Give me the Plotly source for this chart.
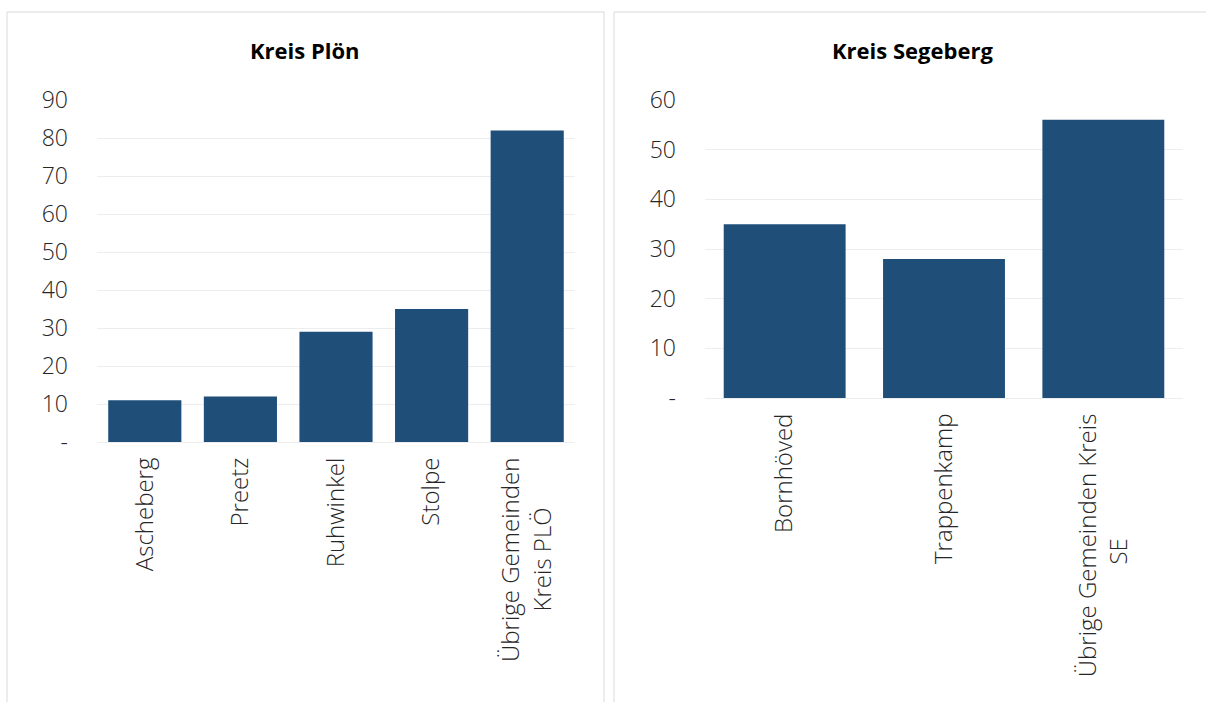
import plotly.graph_objects as go

W, H = 1206, 702
NB = "\u00a0"

ploen_cats = ["Ascheberg", "Preetz", "Ruhwinkel", "Stolpe", "Übrige Gemeinden<br>Kreis PLÖ" + NB * 8]
ploen_vals = [11, 12, 29, 35, 82]
ploen_ticks = [0, 10, 20, 30, 40, 50, 60, 70, 80, 90]
ploen_ticktext = ["-", "10", "20", "30", "40", "50", "60", "70", "80", "90"]

seg_cats = ["Bornhöved", "Trappenkamp", "Übrige Gemeinden Kreis<br>SE" + NB * 20]
seg_vals = [35, 28, 56]
seg_ticks = [0, 10, 20, 30, 40, 50, 60]
seg_ticktext = ["-", "10", "20", "30", "40", "50", "60"]

BAR = "#1F4E79"
FONT = "Open Sans"

fig = go.Figure()
fig.add_trace(go.Bar(x=ploen_cats, y=ploen_vals, marker_color=BAR, xaxis="x", yaxis="y"))
fig.add_trace(go.Bar(x=seg_cats, y=seg_vals, marker_color=BAR, xaxis="x2", yaxis="y2"))

def px(x):
    return x / W

def py(y):
    return 1 - y / H

ytickfont = dict(family=FONT, size=23, color="#262626", weight=300)
xtickfont = dict(family=FONT, size=24, color="#262626", weight=300)
common_y = dict(showgrid=True, gridcolor="#EDEDED", gridwidth=1, zeroline=False, automargin=False,
                tickfont=ytickfont, ticks="", showline=False, ticklabelstandoff=28)
common_x = dict(tickangle=-90, tickfont=xtickfont, ticks="", showline=True, automargin=False,
                linecolor="#EDEDED", linewidth=1, ticklabelstandoff=5)

fig.update_layout(
    template="none",
    width=W, height=H,
    margin=dict(l=0, r=0, t=0, b=0, pad=0),
    paper_bgcolor="white", plot_bgcolor="white",
    showlegend=False, bargap=0.235,
    xaxis=dict(domain=[px(97), px(575)], anchor="y", **common_x),
    yaxis=dict(domain=[py(442), py(100)], anchor="x", range=[0, 90],
               tickvals=ploen_ticks, ticktext=ploen_ticktext, **common_y),
    xaxis2=dict(domain=[px(705), px(1183)], anchor="y2", **common_x),
    yaxis2=dict(domain=[py(398), py(100)], anchor="x2", range=[0, 60],
                tickvals=seg_ticks, ticktext=seg_ticktext, **common_y),
    shapes=[
        dict(type="rect", xref="paper", yref="paper", x0=px(7), x1=px(604), y0=py(712), y1=py(12),
             line=dict(color="#D9D9D9", width=1), layer="below"),
        dict(type="rect", xref="paper", yref="paper", x0=px(614), x1=px(1216), y0=py(712), y1=py(12),
             line=dict(color="#D9D9D9", width=1), layer="below"),
    ],
    annotations=[
        dict(text="<b>Kreis Plön</b>", xref="paper", yref="paper", x=px(305), y=py(50),
             xanchor="center", yanchor="middle",
             showarrow=False, font=dict(family=FONT, size=22, color="black")),
        dict(text="<b>Kreis Segeberg</b>", xref="paper", yref="paper", x=px(912), y=py(50),
             xanchor="center", yanchor="middle",
             showarrow=False, font=dict(family=FONT, size=22, color="black")),
    ],
)

fig.write_html("out.html")
